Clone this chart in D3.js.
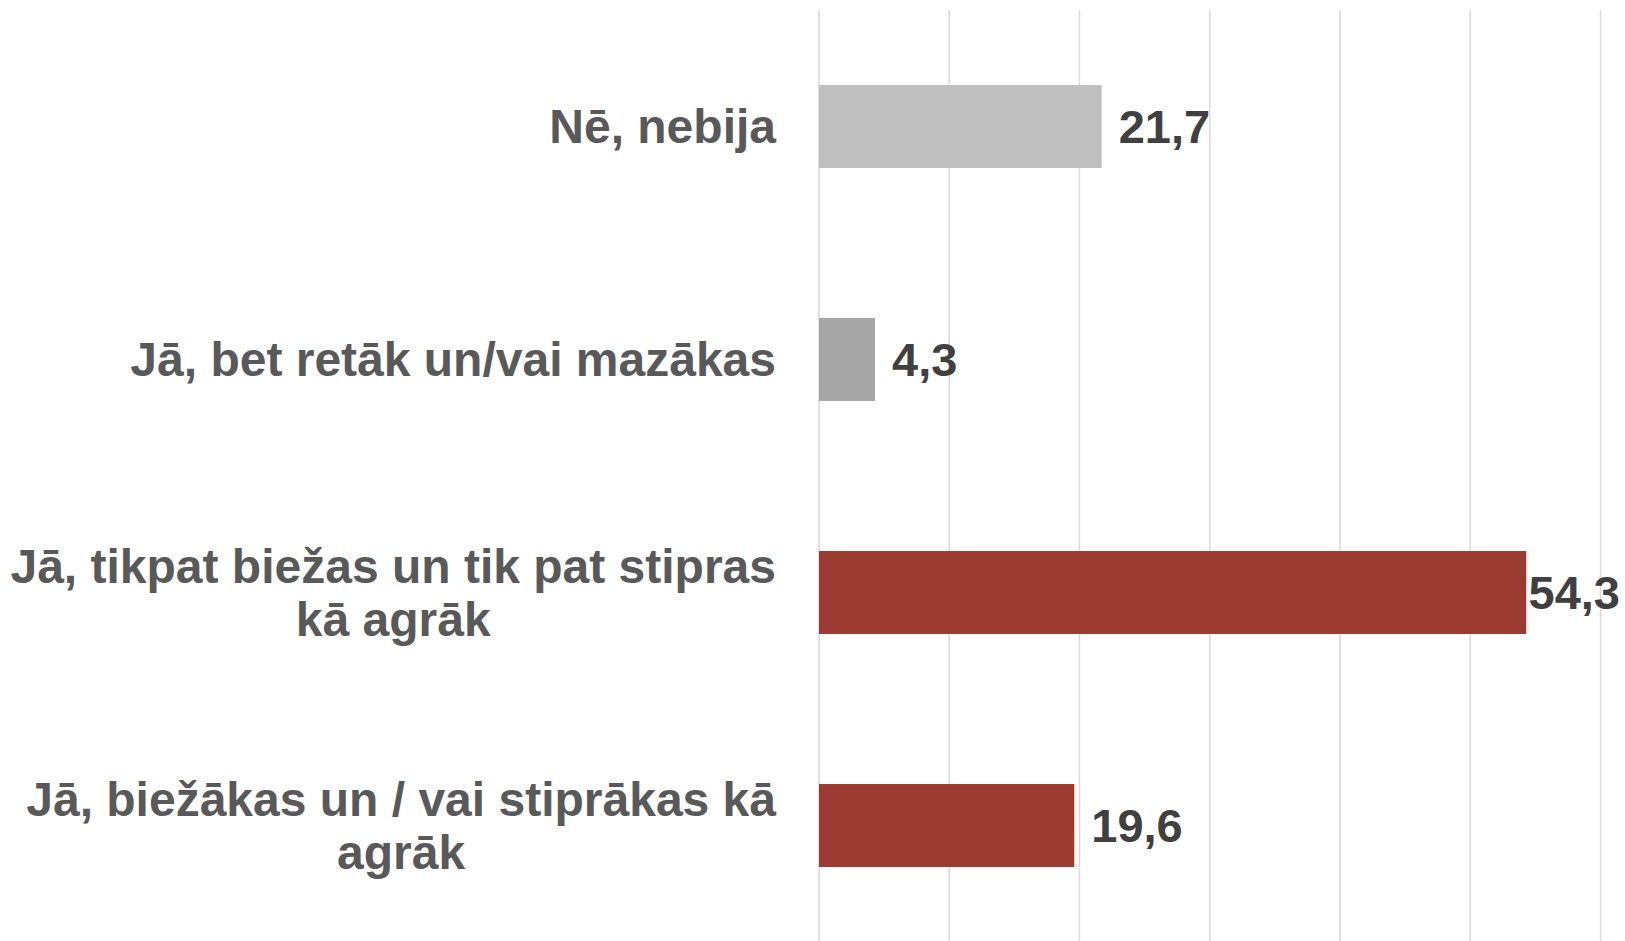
<!DOCTYPE html>
<html>
<head>
<meta charset="utf-8">
<script src="https://cdn.jsdelivr.net/npm/d3@7"></script>
<style>
  html, body { margin: 0; padding: 0; background: #fff; }
  svg { display: block; font-family: "Liberation Sans", Arial, sans-serif; font-weight: bold; }
</style>
</head>
<body>
<script>
// chart data
const categories = [
  "Nē, nebija",
  "Jā, bet retāk un/vai mazākas",
  "Jā, tikpat biežas un tik pat stipras\nkā agrāk",
  "Jā, biežākas un / vai stiprākas kā\nagrāk"
];
const values = [21.7, 4.3, 54.3, 19.6];
const barColors = ["#bfbfbf", "#a6a6a6", "#9c3b32", "#9c3b32"];
const xTicks = [0, 10, 20, 30, 40, 50, 60];

const width = 1625;
const height = 941;
const labelRight = 776;
const fontSize = 47;
const catFontSize = 48;

const svg = d3.select("body").append("svg")
  .attr("width", width)
  .attr("height", height);

const x = d3.scaleLinear().domain([0, 60]).range([819, 1600.5]);
const y = d3.scaleBand()
  .domain(categories)
  .range([10, 942])
  .paddingInner(0.644)
  .paddingOuter(0.322);

// vertical gridlines
svg.append("g")
  .selectAll("line")
  .data(xTicks)
  .join("line")
  .attr("x1", (d) => x(d))
  .attr("x2", (d) => x(d))
  .attr("y1", 10)
  .attr("y2", height)
  .attr("stroke", "#d9d9d9")
  .attr("stroke-width", 1.5);

// bars
svg.append("g")
  .selectAll("rect")
  .data(values)
  .join("rect")
  .attr("x", x(0))
  .attr("y", (d, i) => y(categories[i]))
  .attr("width", (d) => x(d) - x(0))
  .attr("height", y.bandwidth())
  .attr("fill", (d, i) => barColors[i]);

// value labels
const fmt = (v) => v.toFixed(1).replace(".", ",");
svg.append("g")
  .selectAll("text")
  .data(values)
  .join("text")
  .attr("y", (d, i) => y(categories[i]) + y.bandwidth() / 2)
  .attr("dy", "0.35em")
  .attr("fill", "#404040")
  .style("font-size", fontSize + "px")
  .text((d) => fmt(d))
  .attr("x", function (d) {
    const w = this.getComputedTextLength();
    return Math.min(x(d) + 17, width - 5 - w);
  });

// category labels, lines centered within a block right-aligned to the axis
const lineH = 53;
const catG = svg.append("g").attr("fill", "#595959").style("font-size", catFontSize + "px");
categories.forEach((c, i) => {
  const lines = c.split("\n");
  const t = catG.append("text").attr("text-anchor", "middle");
  const cy = y(c) + y.bandwidth() / 2;
  lines.forEach((ln, j) => {
    t.append("tspan")
      .attr("y", cy + (j - (lines.length - 1) / 2) * lineH)
      .attr("dy", "0.35em")
      .text(ln);
  });
  let maxW = 0;
  t.selectAll("tspan").each(function () {
    maxW = Math.max(maxW, this.getComputedTextLength());
  });
  t.selectAll("tspan").attr("x", labelRight - maxW / 2);
});
</script>
</body>
</html>
